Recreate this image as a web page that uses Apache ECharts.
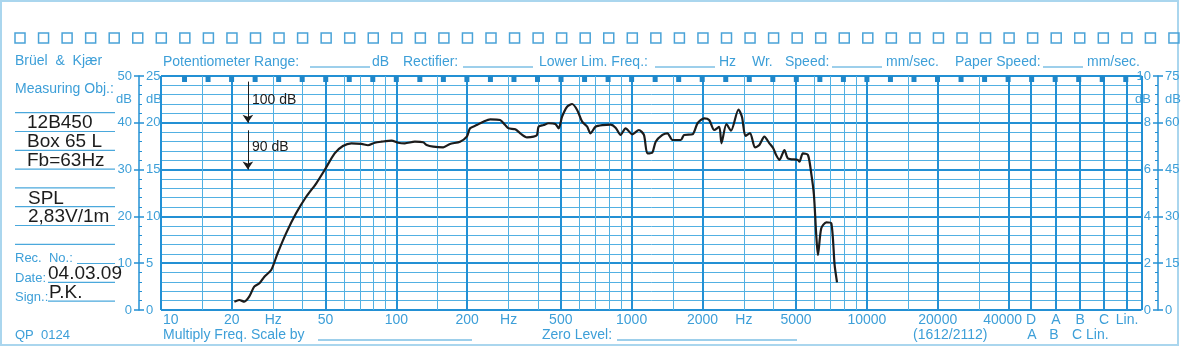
<!DOCTYPE html>
<html>
<head>
<meta charset="utf-8">
<script src="https://cdn.jsdelivr.net/npm/echarts@6/dist/echarts.min.js"></script>
<style>
html, body { margin: 0; padding: 0; background: #fff; }
#chart { width: 1181px; height: 347px; }
</style>
</head>
<body>
<div id="chart"></div>
<script>
// measured response, levels on the 0..25 dB paper scale
var freqHz = [20.5, 21.5, 22.6, 23.7, 24.9, 26.2, 27.5, 29.4, 31.3, 34.0, 37.5, 41.4, 45.7, 49.6, 54.7, 59.3, 64.4, 71.1, 75.8, 81.0,
    86.5, 95.4, 101.8, 108.7, 119.9, 130.1, 134.5, 143.6, 158.3, 169.1, 186.6, 199.3, 205.8, 219.8, 234.5, 250.4, 276.3, 290.2, 299.8, 320.2,
    336.3, 359.2, 383.2, 396.2, 402.5, 422.7, 443.9, 474.2, 489.8, 506.4, 531.9, 558.7, 586.8, 616.4, 647.4, 668.8, 702.4, 750.3, 813.7, 854.8,
    897.8, 942.8, 1007, 1074, 1128, 1167, 1226, 1266, 1352, 1420, 1492, 1618, 1671, 1815, 1906, 2034, 2136, 2244, 2357, 2409,
    2529, 2644, 2846, 2945, 3048, 3186, 3346, 3491, 3666, 3850, 3993, 4112, 4249, 4462, 4614, 5088, 5168, 5344, 5615, 5799,
    5954, 6090, 6193, 6397, 6719, 7056, 7289, 7463];
var levelDb = [0.89, 1.07, 0.89, 1.42, 2.49, 2.85, 3.56, 4.27, 6.06, 8.19, 10.33, 12.10, 13.54, 14.96, 16.74, 17.52, 17.81, 17.74, 17.60, 17.87,
    17.98, 18.09, 17.87, 17.81, 17.98, 17.92, 17.63, 17.45, 17.38, 17.74, 17.98, 18.52, 19.41, 19.76, 20.12, 20.37, 20.30, 19.76, 19.41, 19.31,
    18.88, 18.45, 18.52, 18.70, 19.58, 19.76, 19.95, 19.87, 19.41, 20.65, 21.72, 22.01, 21.37, 20.12, 19.58, 18.88, 19.58, 19.76, 19.80, 19.48,
    18.70, 19.41, 18.77, 19.23, 18.70, 16.74, 16.85, 17.98, 18.70, 18.88, 18.16, 18.16, 18.70, 18.77, 19.95, 20.48, 20.30, 19.23, 19.58, 17.81,
    19.87, 19.15, 21.42, 20.62, 18.59, 18.91, 17.36, 17.63, 18.52, 17.81, 17.31, 16.56, 16.03, 17.09, 16.21, 16.03, 15.84, 16.74, 16.56, 14.60,
    12.29, 8.01, 5.88, 8.73, 9.37, 9.26, 4.81, 2.96];

// paper grid
var gridFreqs = [10, 15, 20, 30, 40, 50, 60, 70, 80, 90, 100, 150, 200, 300, 400, 500, 600, 700, 800, 900,
    1000, 1500, 2000, 3000, 4000, 5000, 6000, 7000, 8000, 9000, 10000, 15000, 20000, 30000, 40000];
var boldFreqs = [10, 20, 50, 100, 200, 500, 1000, 2000, 5000, 10000, 20000, 40000];
var weightNames = ['D', 'A', 'B', 'C', 'Lin.'];
var weightPos = [49800, 63600, 80500, 101800, 127500];
var freqMax = 147000;
var xLabelFreqs = [10, 20, 30, 50, 100, 200, 300, 500, 1000, 2000, 3000, 5000, 10000, 20000, 40000];
var xLabelText = ['10', '20', 'Hz', '50', '100', '200', 'Hz', '500', '1000', '2000', 'Hz', '5000', '10000', '20000', '40000'];

// y scales (all share the same 25 division paper)
var innerLeftVals = [0, 5, 10, 15, 20, 22.5, 25];
var innerLeftText = ['0', '5', '10', '15', '20', 'dB', '25'];
var outerLeftVals = [0, 10, 20, 30, 40, 45, 50];
var outerLeftText = ['0', '10', '20', '30', '40', 'dB', '50'];
var innerRightVals = [0, 2, 4, 6, 8, 9, 10];
var innerRightText = ['0', '2', '4', '6', '8', 'dB', '10'];
var outerRightVals = [0, 15, 30, 45, 60, 67.5, 75];
var outerRightText = ['0', '15', '30', '45', '60', 'dB', '75'];

// range arrows
var arrowFreq = 23.4;
var arrowRanges = [[24.4, 20.0], [19.2, 15.0]];
var arrowText = ['100 dB', '90 dB'];

var BLUE = '#3d9fd8', THIN = '#52b0e2', BOLD = '#2390d4', INK = '#1c1c1c';
var FONT = '"Liberation Sans", Arial, sans-serif';

var chart = echarts.init(document.getElementById('chart'));

var vLines = gridFreqs.map(function (f) {
    var b = boldFreqs.indexOf(f) >= 0;
    return { xAxis: f, lineStyle: { color: b ? BOLD : THIN, width: b ? 2 : 1, type: 'solid' } };
}).concat(weightPos.concat([freqMax]).map(function (f) {
    return { xAxis: f, lineStyle: { color: BOLD, width: 2, type: 'solid' } };
}));

function yLabelAxis(pos, min, max, interval, vals, texts, inside, offset, showLine, tickInside) {
    return {
        type: 'value', gridIndex: 0, position: pos, offset: offset, min: min, max: max, interval: interval,
        axisLine: { show: showLine, lineStyle: { color: BOLD, width: 1.5 } },
        axisTick: { show: true, inside: tickInside, length: 5, lineStyle: { color: BOLD, width: 1.5 } },
        minorTick: { show: showLine, splitNumber: 5, length: 3, lineStyle: { color: BOLD, width: 1 } },
        splitLine: { show: false },
        axisLabel: {
            inside: inside, margin: 7, color: BLUE, fontSize: 13, fontFamily: FONT,
            customValues: vals,
            formatter: function (v) { var i = vals.indexOf(v); return i >= 0 ? texts[i] : ''; }
        }
    };
}

chart.setOption({
    animation: false,
    backgroundColor: '#fff',
    grid: { left: 161, top: 76, right: 39.4, bottom: 37, containLabel: false, outerBoundsMode: 'none' },
    xAxis: [{
        type: 'log', min: 10, max: freqMax, logBase: 10, position: 'bottom',
        axisLine: { show: false }, axisTick: { show: false }, splitLine: { show: false }, minorSplitLine: { show: false },
        axisLabel: { show: false }
    }],
    yAxis: [
        {
            type: 'value', min: 0, max: 25, interval: 5, position: 'left',
            axisLine: { show: false }, axisTick: { show: false }, axisLabel: { show: false },
            splitLine: { show: true, lineStyle: { color: BOLD, width: 2 } },
            minorTick: { show: false, splitNumber: 5 },
            minorSplitLine: { show: true, lineStyle: { color: THIN, width: 1 } }
        },
        yLabelAxis('left', 0, 25, 5, innerLeftVals, innerLeftText, true, 22, true, true),
        yLabelAxis('left', 0, 50, 10, outerLeftVals, outerLeftText, false, 22, false, false),
        yLabelAxis('right', 0, 10, 2, innerRightVals, innerRightText, true, 16.4, true, true),
        yLabelAxis('right', 0, 75, 15, outerRightVals, outerRightText, false, 16.4, false, false)
    ],
    series: [{
        type: 'line', data: [], z: 1, silent: true,
        markLine: { silent: true, symbol: ['none', 'none'], label: { show: false }, animation: false, data: vLines }
    }, {
        type: 'line', data: [], z: 4, silent: true,
        markLine: {
            silent: true, symbol: ['none', 'arrow'], symbolSize: 8, label: { show: false }, animation: false,
            lineStyle: { color: INK, width: 1, type: 'solid' },
            data: arrowRanges.map(function (r) { return [{ coord: [arrowFreq, r[0]] }, { coord: [arrowFreq, r[1]] }]; })
        }
    }, {
        name: 'SPL', type: 'line', z: 5, showSymbol: false, smooth: 0.25,
        lineStyle: { color: INK, width: 2.2 },
        data: freqHz.map(function (f, i) { return [f, levelDb[i]]; })
    }]
});

function txt(s, x, y, color, size, align) {
    return {
        type: 'text', x: x, y: y, silent: true, z: 10,
        style: { text: s, fill: color, font: size + 'px ' + FONT, align: align || 'left', verticalAlign: 'middle',
            textAlign: align || 'left', textVerticalAlign: 'middle' }
    };
}
function hline(x1, x2, y, color, w) {
    return { type: 'line', silent: true, z: 10, shape: { x1: x1, y1: y, x2: x2, y2: y }, style: { stroke: color, lineWidth: w || 1.2 } };
}

var g = [];
g.push({ type: 'rect', silent: true, shape: { x: 1, y: 1, width: 1177, height: 344 }, style: { fill: 'none', stroke: '#aad6ee', lineWidth: 2 } });
for (var i = 0; i < 50; i++) {
    g.push({ type: 'rect', silent: true, shape: { x: 15 + 23.55 * i, y: 33, width: 10, height: 10 }, style: { fill: 'none', stroke: '#4aa3d8', lineWidth: 1.5 } });
}
// header
g.push(txt('Brüel  &  Kjær', 15, 61, BLUE, 14));
g.push(txt('Measuring Obj.:', 15, 89, BLUE, 14));
g.push(txt('Potentiometer Range:', 163, 62, BLUE, 14), hline(310, 370, 67, BLUE), txt('dB', 372, 62, BLUE, 14));
g.push(txt('Rectifier:', 403, 62, BLUE, 14), hline(463, 533, 67, BLUE));
g.push(txt('Lower Lim. Freq.:', 539, 62, BLUE, 14), hline(655, 715, 67, BLUE), txt('Hz', 719, 62, BLUE, 14));
g.push(txt('Wr.', 752, 62, BLUE, 14));
g.push(txt('Speed:', 785, 62, BLUE, 14), hline(832, 882, 67, BLUE), txt('mm/sec.', 886, 62, BLUE, 14));
g.push(txt('Paper Speed:', 955, 62, BLUE, 14), hline(1043, 1083, 67, BLUE), txt('mm/sec.', 1087, 62, BLUE, 14));
// left panel
for (var k = 0; k < 8; k++) g.push(hline(15, 115, 112.7 + 18.8 * k, '#4aa8dc'));
g.push(hline(77, 115, 263.5, '#4aa8dc'), hline(48, 115, 282.3, '#4aa8dc'), hline(48, 115, 301.1, '#4aa8dc'));
g.push(txt('12B450', 27, 122.5, INK, 19), txt('Box 65 L', 27, 141.5, INK, 19), txt('Fb=63Hz', 27, 161, INK, 19));
g.push(txt('SPL', 28, 198.3, INK, 19), txt('2,83V/1m', 28, 217, INK, 19));
g.push(txt('Rec.  No.:', 15, 258, BLUE, 13), txt('Date:', 15, 278, BLUE, 13), txt('Sign.:', 15, 297, BLUE, 13));
g.push(txt('04.03.09', 48, 274, INK, 19), txt('P.K.', 49, 293, INK, 19));
g.push(txt('QP  0124', 15, 335, BLUE, 13));
// frequency scale labels, placed through the x axis scale
xLabelFreqs.concat(weightPos).forEach(function (f, i) {
    var s = xLabelText.concat(weightNames)[i];
    var px = chart.convertToPixel({ xAxisIndex: 0 }, f);
    if (i === 0) g.push(txt(s, px + 2, 320, BLUE, 14, 'left'));
    else if (s === '40000') g.push(txt(s, px - 6, 320, BLUE, 14, 'center'));
    else g.push(txt(s, px, 320, BLUE, 14, 'center'));
});
// bottom
g.push(txt('Multiply Freq. Scale by', 163, 335, BLUE, 14), hline(318, 472, 340, BLUE));
g.push(txt('Zero Level:', 542, 335, BLUE, 14), hline(617, 797, 340, BLUE));
g.push(txt('(1612/2112)', 913, 335, BLUE, 14));
g.push(txt('A', 1032, 335, BLUE, 14, 'center'), txt('B', 1054, 335, BLUE, 14, 'center'), txt('C Lin.', 1072, 335, BLUE, 14));
// range notes
g.push(txt(arrowText[0], 252, 100, INK, 14), txt(arrowText[1], 252, 147, INK, 14));
// pen timing marks along the top edge
for (var m = 1; m <= 41; m++) {
    var px = chart.convertToPixel({ xAxisIndex: 0 }, 10 * Math.pow(10, m / 10));
    g.push({ type: 'rect', silent: true, z: 10, shape: { x: px - 2.5, y: 76, width: 5, height: 6 }, style: { fill: '#1f86c8' } });
}
chart.setOption({ graphic: { elements: g } });
</script>
</body>
</html>
